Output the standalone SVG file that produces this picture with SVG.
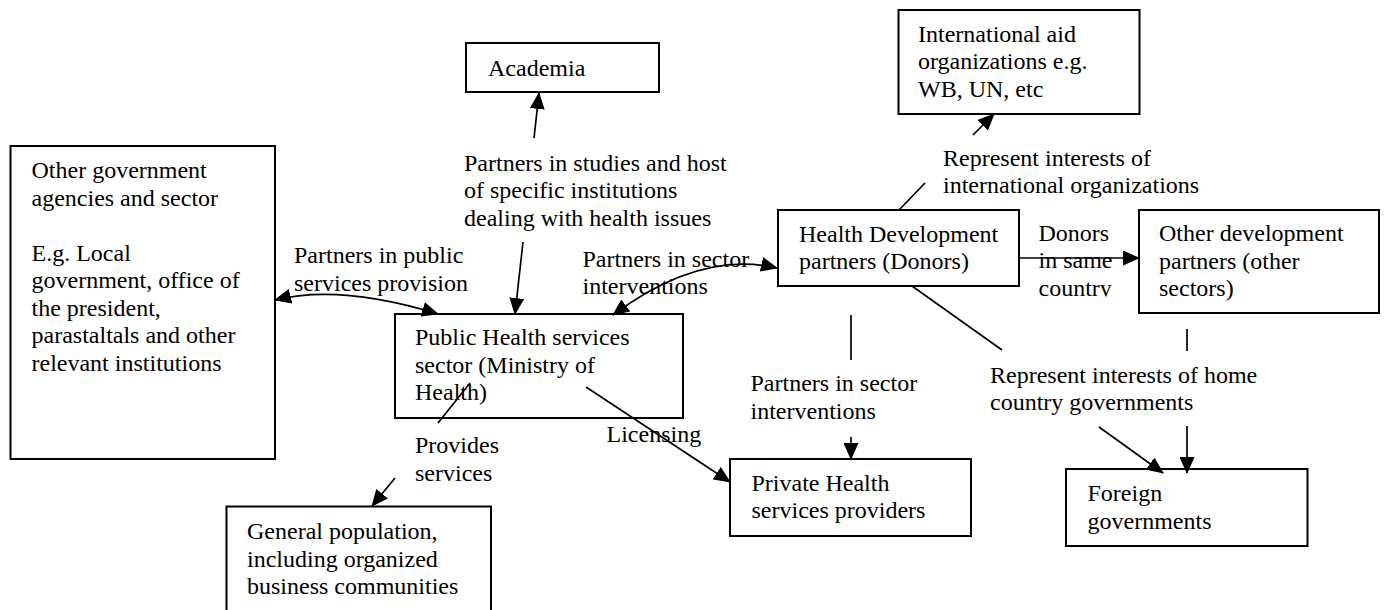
<svg xmlns="http://www.w3.org/2000/svg" width="1384" height="610" viewBox="0 0 1384 610">
<style>
  .box { fill: #fff; stroke: #000; stroke-width: 2; }
  .t { font-family: "Liberation Serif", "Times New Roman", serif; font-size: 24px; fill: #000; }
  .c { fill: none; stroke: #000; stroke-width: 1.7; }
</style>
<defs>
  <marker id="ah" markerUnits="userSpaceOnUse" markerWidth="17" markerHeight="15" viewBox="0 0 17 15" refX="16" refY="7.5" orient="auto-start-reverse">
    <path d="M0,0 L17,7.5 L0,15 z" fill="#000"/>
  </marker>
  <clipPath id="donorsClip"><rect x="1030" y="215" width="100" height="81.5"/></clipPath>
</defs>
<rect width="1384" height="610" fill="#fff"/>

<g id="node-other-gov">
  <rect class="box" x="10.5" y="146" width="264.5" height="313"/>
  <text class="t" x="31.5" y="178">Other government</text>
  <text class="t" x="31.5" y="205.5">agencies and sector</text>
  <text class="t" x="31.5" y="260.5">E.g. Local</text>
  <text class="t" x="31.5" y="288">government, office of</text>
  <text class="t" x="31.5" y="315.5">the president,</text>
  <text class="t" x="31.5" y="343">parastaltals and other</text>
  <text class="t" x="31.5" y="370.5">relevant institutions</text>
</g>

<g id="node-academia">
  <rect class="box" x="466" y="43" width="193" height="49"/>
  <text class="t" x="488" y="76">Academia</text>
</g>

<g id="node-public-health">
  <rect class="box" x="395" y="314" width="288" height="104"/>
  <text class="t" x="415" y="345">Public Health services</text>
  <text class="t" x="415" y="372.5">sector (Ministry of</text>
  <text class="t" x="415" y="400">Health)</text>
</g>

<g id="node-health-dev">
  <rect class="box" x="778" y="210" width="241" height="76"/>
  <text class="t" x="799" y="241.5">Health Development</text>
  <text class="t" x="799" y="269">partners (Donors)</text>
</g>

<g id="node-intl-aid">
  <rect class="box" x="898.5" y="10" width="241" height="104"/>
  <text class="t" x="918" y="41.5">International aid</text>
  <text class="t" x="918" y="69">organizations e.g.</text>
  <text class="t" x="918" y="96.5">WB, UN, etc</text>
</g>

<g id="node-other-dev">
  <rect class="box" x="1139" y="210" width="240" height="103"/>
  <text class="t" x="1159" y="241">Other development</text>
  <text class="t" x="1159" y="268.5">partners (other</text>
  <text class="t" x="1159" y="296">sectors)</text>
</g>

<g id="node-private">
  <rect class="box" x="730" y="459" width="241" height="77"/>
  <text class="t" x="751.5" y="490.5">Private Health</text>
  <text class="t" x="751.5" y="518">services providers</text>
</g>

<g id="node-foreign">
  <rect class="box" x="1066" y="469" width="241.5" height="77"/>
  <text class="t" x="1087.5" y="501">Foreign</text>
  <text class="t" x="1087.5" y="528.5">governments</text>
</g>

<g id="node-general-pop">
  <rect class="box" x="226.5" y="506.5" width="264.5" height="120"/>
  <text class="t" x="247" y="539">General population,</text>
  <text class="t" x="247" y="566.5">including organized</text>
  <text class="t" x="247" y="594">business communities</text>
</g>

<g id="labels">
  <text class="t" x="294" y="263">Partners in public</text>
  <text class="t" x="294" y="290.5">services provision</text>
  <text class="t" x="464" y="170.5">Partners in studies and host</text>
  <text class="t" x="464" y="198">of specific institutions</text>
  <text class="t" x="464" y="225.5">dealing with health issues</text>
  <text class="t" x="582.5" y="266.5">Partners in sector</text>
  <text class="t" x="582.5" y="293.5">interventions</text>
  <text class="t" x="943" y="165.5">Represent interests of</text>
  <text class="t" x="943" y="193">international organizations</text>
  <g clip-path="url(#donorsClip)">
    <text class="t" x="1038.5" y="240.5">Donors</text>
    <text class="t" x="1038.5" y="268">in same</text>
    <text class="t" x="1038.5" y="295.5">country</text>
  </g>
  <text class="t" x="990" y="382.5">Represent interests of home</text>
  <text class="t" x="990" y="410">country governments</text>
  <text class="t" x="750.5" y="391">Partners in sector</text>
  <text class="t" x="750.5" y="418.5">interventions</text>
  <text class="t" x="606.5" y="441.5">Licensing</text>
  <text class="t" x="415" y="453">Provides</text>
  <text class="t" x="415" y="480.5">services</text>
</g>

<g id="connectors">
  <path class="c" d="M275,300 Q340,284 438,314" marker-start="url(#ah)" marker-end="url(#ah)"/>
  <line class="c" x1="534" y1="138" x2="539" y2="93" marker-end="url(#ah)"/>
  <line class="c" x1="523" y1="242" x2="515" y2="314" marker-end="url(#ah)"/>
  <path class="c" d="M613,315 Q700,250 777,268" marker-start="url(#ah)" marker-end="url(#ah)"/>
  <line class="c" x1="1019" y1="258" x2="1139" y2="258" marker-end="url(#ah)"/>
  <line class="c" x1="899" y1="210" x2="925" y2="183"/>
  <line class="c" x1="973" y1="135" x2="994" y2="114" marker-end="url(#ah)"/>
  <line class="c" x1="912" y1="286" x2="1002" y2="350"/>
  <line class="c" x1="1099" y1="427" x2="1163" y2="473" marker-end="url(#ah)"/>
  <line class="c" x1="1187" y1="329" x2="1187" y2="351"/>
  <line class="c" x1="1187" y1="426" x2="1187" y2="473" marker-end="url(#ah)"/>
  <line class="c" x1="851" y1="315" x2="851" y2="360"/>
  <line class="c" x1="851" y1="437" x2="851" y2="459" marker-end="url(#ah)"/>
  <line class="c" x1="586" y1="387" x2="730" y2="482" marker-end="url(#ah)"/>
  <line class="c" x1="470" y1="383" x2="438" y2="423"/>
  <line class="c" x1="395" y1="478" x2="372" y2="506" marker-end="url(#ah)"/>
</g>
</svg>
